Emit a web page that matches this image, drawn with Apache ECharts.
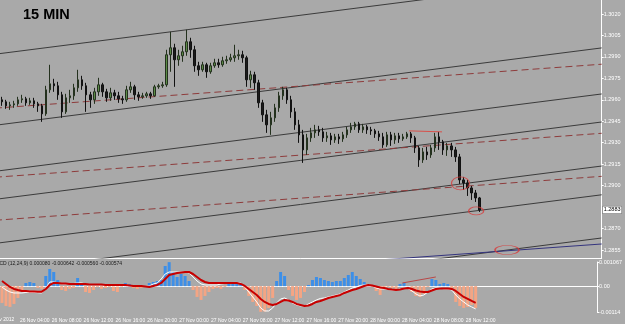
<!DOCTYPE html>
<html>
<head>
<meta charset="utf-8">
<script src="https://cdn.jsdelivr.net/npm/echarts@6/dist/echarts.min.js"></script>
<style>
  html, body { margin: 0; padding: 0; background: #a9a9a9; }
  #chart { width: 625px; height: 324px; }
</style>
</head>
<body>
<div id="chart"></div>
<script>
// 30 min slots, slot 0 = 26 Nov 00:00; the window shows slots 4..153
const firstVisibleSlot = 4;
const slotCount = 150;
const timeLabels = ['26 Nov 2012', '26 Nov 04:00', '26 Nov 08:00', '26 Nov 12:00', '26 Nov 16:00', '26 Nov 20:00',
  '27 Nov 00:00', '27 Nov 04:00', '27 Nov 08:00', '27 Nov 12:00', '27 Nov 16:00', '27 Nov 20:00',
  '28 Nov 00:00', '28 Nov 04:00', '28 Nov 08:00', '28 Nov 12:00'];
const priceTicks = [1.3020, 1.3005, 1.2990, 1.2975, 1.2960, 1.2945, 1.2930, 1.2915, 1.2900, 1.2870, 1.2855];
const lastPrice = 1.2883;
const macdTicks = [0.001067, 0, -0.00114];
const macdTickLabels = ['0.001067', '0.00', '-0.00114'];

// open, close, low, high (from slot 4)
const ohlc = [
  [1.29600,1.29586,1.29558,1.29621],[1.29586,1.29558,1.29537,1.29600],
  [1.29558,1.29565,1.29530,1.29586],[1.29565,1.29572,1.29544,1.29593],[1.29572,1.29600,1.29558,1.29621],
  [1.29600,1.29607,1.29579,1.29635],[1.29607,1.29579,1.29558,1.29621],[1.29579,1.29593,1.29565,1.29614],
  [1.29593,1.29572,1.29544,1.29614],[1.29572,1.29558,1.29516,1.29586],[1.29558,1.29502,1.29446,1.29572],
  [1.29502,1.29670,1.29488,1.29698],[1.29670,1.29712,1.29649,1.29845],[1.29712,1.29698,1.29656,1.29747],
  [1.29698,1.29635,1.29600,1.29726],[1.29635,1.29516,1.29474,1.29656],[1.29516,1.29614,1.29502,1.29642],
  [1.29614,1.29628,1.29579,1.29670],[1.29628,1.29684,1.29600,1.29712],[1.29684,1.29740,1.29656,1.29810],
  [1.29740,1.29698,1.29670,1.29768],[1.29698,1.29635,1.29516,1.29719],[1.29635,1.29600,1.29544,1.29656],
  [1.29600,1.29656,1.29572,1.29684],[1.29656,1.29705,1.29628,1.29754],[1.29705,1.29656,1.29621,1.29719],
  [1.29656,1.29614,1.29586,1.29677],[1.29614,1.29649,1.29593,1.29684],[1.29649,1.29628,1.29600,1.29670],
  [1.29628,1.29607,1.29579,1.29656],[1.29607,1.29600,1.29572,1.29628],[1.29600,1.29670,1.29586,1.29698],
  [1.29670,1.29691,1.29649,1.29726],[1.29691,1.29635,1.29600,1.29705],[1.29635,1.29621,1.29593,1.29656],
  [1.29621,1.29628,1.29607,1.29649],[1.29628,1.29642,1.29614,1.29656],[1.29642,1.29628,1.29607,1.29656],
  [1.29628,1.29691,1.29621,1.29705],[1.29691,1.29698,1.29677,1.29712],[1.29698,1.29705,1.29684,1.29726],
  [1.29705,1.29915,1.29691,1.29950],[1.29915,1.29964,1.29796,1.30076],[1.29964,1.29880,1.29691,1.29992],
  [1.29880,1.29908,1.29838,1.29950],[1.29908,1.29936,1.29866,1.29978],[1.29936,1.30006,1.29908,1.30090],
  [1.30006,1.29950,1.29894,1.30034],[1.29950,1.29838,1.29796,1.29978],[1.29838,1.29810,1.29768,1.29866],
  [1.29810,1.29845,1.29796,1.29866],[1.29845,1.29796,1.29754,1.29859],[1.29796,1.29838,1.29782,1.29859],
  [1.29838,1.29859,1.29824,1.29887],[1.29859,1.29845,1.29824,1.29887],[1.29845,1.29873,1.29831,1.29901],
  [1.29873,1.29880,1.29852,1.29908],[1.29880,1.29894,1.29866,1.29922],[1.29894,1.29908,1.29866,1.29985],
  [1.29908,1.29915,1.29880,1.29950],[1.29915,1.29894,1.29859,1.29943],[1.29894,1.29740,1.29691,1.29908],
  [1.29740,1.29775,1.29684,1.29803],[1.29775,1.29719,1.29670,1.29796],[1.29719,1.29579,1.29544,1.29740],
  [1.29579,1.29495,1.29446,1.29600],[1.29495,1.29425,1.29369,1.29530],[1.29425,1.29474,1.29355,1.29516],
  [1.29474,1.29544,1.29446,1.29572],[1.29544,1.29628,1.29516,1.29656],[1.29628,1.29670,1.29600,1.29691],
  [1.29670,1.29600,1.29572,1.29684],[1.29600,1.29516,1.29474,1.29628],[1.29516,1.29425,1.29390,1.29544],
  [1.29425,1.29355,1.29299,1.29460],[1.29355,1.29250,1.29159,1.29390],[1.29250,1.29334,1.29215,1.29362],
  [1.29334,1.29369,1.29306,1.29404],[1.29369,1.29390,1.29334,1.29425],[1.29390,1.29376,1.29348,1.29418],
  [1.29376,1.29334,1.29306,1.29404],[1.29334,1.29348,1.29306,1.29376],[1.29348,1.29320,1.29285,1.29369],
  [1.29320,1.29341,1.29299,1.29362],[1.29341,1.29327,1.29292,1.29362],[1.29327,1.29355,1.29306,1.29376],
  [1.29355,1.29390,1.29334,1.29411],[1.29390,1.29411,1.29369,1.29439],[1.29411,1.29432,1.29390,1.29446],
  [1.29432,1.29390,1.29369,1.29446],[1.29390,1.29411,1.29369,1.29432],[1.29411,1.29390,1.29362,1.29425],
  [1.29390,1.29383,1.29355,1.29411],[1.29383,1.29362,1.29334,1.29397],[1.29362,1.29341,1.29313,1.29383],
  [1.29341,1.29285,1.29264,1.29369],[1.29285,1.29355,1.29271,1.29376],[1.29355,1.29320,1.29278,1.29376],
  [1.29320,1.29348,1.29292,1.29369],[1.29348,1.29327,1.29299,1.29369],[1.29327,1.29341,1.29313,1.29362],
  [1.29341,1.29362,1.29327,1.29376],[1.29362,1.29334,1.29299,1.29376],[1.29334,1.29264,1.29229,1.29348],
  [1.29264,1.29180,1.29131,1.29278],[1.29180,1.29236,1.29159,1.29264],[1.29236,1.29215,1.29180,1.29271],
  [1.29215,1.29264,1.29194,1.29285],[1.29264,1.29341,1.29236,1.29369],[1.29341,1.29306,1.29250,1.29376],
  [1.29306,1.29250,1.29215,1.29320],[1.29250,1.29278,1.29208,1.29299],[1.29278,1.29250,1.29201,1.29299],
  [1.29250,1.29201,1.29166,1.29271],[1.29201,1.29040,1.29012,1.29222],[1.29040,1.29019,1.28970,1.29061],
  [1.29019,1.28984,1.28928,1.29040],[1.28984,1.28949,1.28900,1.28998],[1.28949,1.28914,1.28886,1.28970],
  [1.28914,1.28830,1.28816,1.28921]
];

const macdHist = [
  -0.000741,-0.000873,-0.000917,-0.000785,-0.000520,-0.000168,0.000141,0.000185,0.000141,
  -0.000079,-0.000123,0.000450,0.000759,0.000626,0.000273,-0.000168,-0.000212,-0.000123,-0.000079,
  0.000362,0.000141,-0.000256,-0.000300,-0.000168,-0.000035,-0.000123,-0.000079,-0.000035,-0.000212,
  -0.000256,-0.000035,0.000141,0.000097,-0.000079,-0.000123,-0.000079,-0.000035,0.000141,0.000185,
  0.000229,0.000273,0.000891,0.001060,0.000626,0.000406,0.000538,0.000450,0.000229,-0.000168,
  -0.000476,-0.000609,-0.000432,-0.000256,-0.000123,-0.000079,-0.000123,-0.000035,0.000097,0.000141,
  0.000141,0.000097,-0.000168,-0.000432,-0.000697,-0.000873,-0.001130,-0.001120,-0.000961,-0.000520,
  0.000229,0.000626,0.000450,-0.000168,-0.000432,-0.000609,-0.000520,-0.000256,0.000053,0.000273,
  0.000406,0.000362,0.000273,0.000229,0.000185,0.000229,0.000229,0.000362,0.000494,0.000626,
  0.000450,0.000318,0.000185,0.000053,-0.000035,-0.000212,-0.000388,-0.000123,-0.000035,-0.000079,
  -0.000123,0.000097,0.000141,0.000010,-0.000256,-0.000432,-0.000476,-0.000344,-0.000035,0.000318,
  0.000273,0.000097,0.000141,0.000097,-0.000123,-0.000697,-0.000873,-0.000961,-0.000917,-0.000829,
  -0.000961
];
const macdRed = [
  0.000229,0.000097,-0.000035,-0.000123,-0.000168,-0.000212,-0.000212,-0.000234,-0.000234,
  -0.000243,-0.000243,-0.000123,0.000053,0.000141,0.000141,0.000119,0.000119,0.000097,0.000097,
  0.000097,0.000097,0.000097,0.000075,0.000075,0.000075,0.000075,0.000053,0.000053,0.000053,
  0.000053,0.000053,0.000053,0.000031,0.000009,0.000009,0.000009,-0.000013,-0.000035,0.000009,
  0.000053,0.000141,0.000318,0.000494,0.000538,0.000582,0.000604,0.000626,0.000626,0.000538,
  0.000406,0.000273,0.000185,0.000141,0.000141,0.000141,0.000141,0.000141,0.000141,0.000141,
  0.000141,0.000097,0.000009,-0.000123,-0.000256,-0.000388,-0.000564,-0.000697,-0.000785,-0.000829,
  -0.000785,-0.000697,-0.000609,-0.000631,-0.000697,-0.000785,-0.000829,-0.000873,-0.000851,-0.000785,
  -0.000697,-0.000653,-0.000587,-0.000520,-0.000476,-0.000432,-0.000388,-0.000300,-0.000234,-0.000168,
  -0.000123,-0.000057,0.000009,0.000053,0.000031,-0.000013,-0.000057,-0.000079,-0.000123,-0.000146,
  -0.000168,-0.000146,-0.000101,-0.000079,-0.000123,-0.000190,-0.000234,-0.000256,-0.000256,-0.000190,
  -0.000123,-0.000101,-0.000101,-0.000101,-0.000123,-0.000212,-0.000344,-0.000476,-0.000564,-0.000653,
  -0.000741
];
const macdWhite = [
  -0.000035,-0.000168,-0.000256,-0.000300,-0.000300,-0.000300,-0.000278,-0.000278,-0.000278,
  -0.000287,-0.000300,-0.000079,0.000185,0.000185,0.000141,0.000097,0.000097,0.000119,0.000119,
  0.000141,0.000141,0.000097,0.000053,0.000053,0.000053,0.000053,0.000031,0.000031,0.000009,
  0.000009,0.000009,0.000053,0.000031,0.000009,-0.000013,-0.000013,-0.000013,0.000009,0.000097,
  0.000141,0.000318,0.000538,0.000626,0.000626,0.000626,0.000626,0.000626,0.000582,0.000406,
  0.000229,0.000097,0.000053,0.000053,0.000053,0.000053,0.000097,0.000119,0.000141,0.000163,
  0.000163,0.000141,-0.000035,-0.000256,-0.000476,-0.000697,-0.000961,-0.001094,-0.001094,-0.000961,
  -0.000741,-0.000564,-0.000520,-0.000609,-0.000741,-0.000829,-0.000873,-0.000873,-0.000785,-0.000697,
  -0.000609,-0.000542,-0.000520,-0.000476,-0.000432,-0.000388,-0.000344,-0.000256,-0.000168,-0.000079,
  -0.000035,0.000031,0.000053,0.000053,0.000009,-0.000079,-0.000123,-0.000123,-0.000146,-0.000168,
  -0.000168,-0.000123,-0.000079,-0.000101,-0.000212,-0.000344,-0.000432,-0.000388,-0.000256,-0.000123,
  -0.000079,-0.000079,-0.000123,-0.000123,-0.000168,-0.000388,-0.000564,-0.000697,-0.000829,-0.000917,
  -0.001005
];

// drawn objects (slot units): price at left and right ends
const lineEnds = [-0.5, 153.5];
const channelLines = [[1.29909, 1.30460], [1.29412, 1.29963], [1.29090, 1.29641], [1.28894, 1.29445],
  [1.28586, 1.29137], [1.28385, 1.28936], [1.28083, 1.28634]];
const dashedLines = [[1.29536, 1.29849], [1.29053, 1.29366], [1.28752, 1.29065]];
const blueLine = [1.28282, 1.28592];
const topLineSlots = [105.5, 113.7];
const topLinePrices = [1.29383, 1.29376];
const circleSlots = [118.3, 122.2, 129.9];
const circlePrices = [1.29016, 1.28823, 1.28550];
const divSlots = [104.6, 113.0];
const divValues = [0.000141, 0.000406];

const cats = Array.from({ length: slotCount }, (_, i) => i + firstVisibleSlot);
const pad = (arr) => cats.map((s, i) => i < arr.length ? arr[i] : '-');
const slotMin = firstVisibleSlot - 0.5;
const slotMax = firstVisibleSlot - 0.5 + slotCount;
const isLabelSlot = (i) => {
  const s = cats[i];
  return s % 8 === 0 && s / 8 < timeLabels.length;
};

const chart = echarts.init(document.getElementById('chart'));

const segment = (p, color, type) => ({
  type: 'line',
  xAxisIndex: 1,
  yAxisIndex: 0,
  data: [[lineEnds[0], p[0]], [lineEnds[1], p[1]]],
  symbol: 'none',
  silent: true,
  clip: true,
  lineStyle: { color: color, width: 1, type: type },
  z: 1
});

const series = [];
channelLines.forEach((p) => series.push(segment(p, '#3b3b3b', 'solid')));
dashedLines.forEach((p) => series.push(segment(p, '#8e3c3c', [7, 4])));
series.push(segment(blueLine, '#34347e', 'solid'));

series.push({
  type: 'candlestick',
  xAxisIndex: 0,
  yAxisIndex: 0,
  data: pad(ohlc),
  barWidth: 2,
  itemStyle: {
    color: '#5b8c46',
    color0: '#1b1b1b',
    borderColor: '#24311e',
    borderColor0: '#111111',
    borderWidth: 1
  },
  z: 3
});

series.push({
  type: 'line',
  xAxisIndex: 1,
  yAxisIndex: 0,
  data: topLineSlots.map((s, i) => [s, topLinePrices[i]]),
  symbol: 'none',
  lineStyle: { color: '#d8504a', width: 1 },
  z: 4
});

series.push({
  type: 'scatter',
  xAxisIndex: 1,
  yAxisIndex: 0,
  data: circleSlots.map((s, i) => [s, circlePrices[i]]),
  symbol: 'circle',
  symbolSize: (v, p) => [[18, 13], [15, 8], [24, 9]][p.dataIndex],
  itemStyle: { color: 'rgba(0,0,0,0)', borderColor: '#d83a3a', borderWidth: 1 },
  z: 5
});

// MACD pane
series.push({
  type: 'bar',
  xAxisIndex: 2,
  yAxisIndex: 2,
  data: pad(macdHist),
  barWidth: 3,
  itemStyle: {
    color: (p) => p.value >= 0 ? '#3d8fe8' : '#f4a584'
  },
  z: 2
});
series.push({
  type: 'line',
  xAxisIndex: 2,
  yAxisIndex: 2,
  data: pad(macdWhite),
  symbol: 'none',
  lineStyle: { color: '#ffffff', width: 1 },
  z: 3
});
series.push({
  type: 'line',
  xAxisIndex: 2,
  yAxisIndex: 2,
  data: pad(macdRed),
  symbol: 'none',
  lineStyle: { color: '#c80000', width: 2 },
  z: 4
});
series.push({
  type: 'line',
  xAxisIndex: 3,
  yAxisIndex: 2,
  data: divSlots.map((s, i) => [s, divValues[i]]),
  symbol: 'none',
  lineStyle: { color: '#b84848', width: 1 },
  z: 5
});

const fontName = 'Liberation Sans, Arial, sans-serif';
const labelFont = { color: '#ffffff', fontSize: 5.5, fontFamily: fontName };

chart.setOption({
  animation: false,
  backgroundColor: '#a9a9a9',
  graphic: [
    {
      type: 'text',
      x: 23,
      y: 7,
      style: { text: '15 MIN', fill: '#000000', font: 'bold 14.5px ' + fontName }
    },
    {
      type: 'text',
      x: -8,
      y: 261.5,
      style: {
        text: 'MACD (12,24,9) 0.000080 -0.000642 -0.000560 -0.000574',
        fill: '#1a1a1a',
        font: '5px ' + fontName
      }
    },
    {
      // first time label sits left of the window and is cut off
      type: 'text',
      x: -14,
      y: 317.5,
      style: { text: timeLabels[0], fill: '#ffffff', font: '5px ' + fontName }
    }
  ],
  grid: [
    { left: 0, right: 20, top: 0, height: 258 },
    { left: 0, right: 20, top: 262, height: 50 }
  ],
  xAxis: [
    {
      type: 'category',
      gridIndex: 0,
      data: cats,
      boundaryGap: true,
      axisLine: { lineStyle: { color: '#ffffff', width: 1 } },
      axisTick: { show: false },
      axisLabel: { show: false },
      splitLine: { show: false }
    },
    {
      type: 'value',
      gridIndex: 0,
      min: slotMin,
      max: slotMax,
      show: false
    },
    {
      type: 'category',
      gridIndex: 1,
      data: cats,
      boundaryGap: true,
      offset: 4,
      axisLine: { lineStyle: { color: '#ffffff', width: 1 } },
      axisTick: {
        alignWithLabel: true,
        length: 2,
        lineStyle: { color: '#ffffff' },
        interval: isLabelSlot
      },
      axisLabel: Object.assign({}, labelFont, {
        fontSize: 5,
        margin: 2,
        align: 'left',
        padding: [0, 0, 0, 2],
        interval: isLabelSlot,
        formatter: (v) => timeLabels[v / 8] || ''
      }),
      splitLine: { show: false }
    },
    {
      type: 'value',
      gridIndex: 1,
      min: slotMin,
      max: slotMax,
      show: false
    }
  ],
  yAxis: [
    {
      type: 'value',
      gridIndex: 0,
      position: 'right',
      min: 1.28494,
      max: 1.30298,
      axisLine: { show: true, lineStyle: { color: '#ffffff', width: 1 } },
      axisTick: { show: true, length: 2, lineStyle: { color: '#ffffff' }, customValues: priceTicks },
      axisLabel: Object.assign({}, labelFont, {
        margin: 2,
        customValues: priceTicks,
        formatter: (v) => v.toFixed(4)
      }),
      splitLine: { show: false }
    },
    {
      type: 'value',
      gridIndex: 0,
      position: 'right',
      offset: 0,
      min: 1.28494,
      max: 1.30298,
      axisLine: { show: false },
      axisTick: { show: false },
      axisLabel: {
        color: '#000000',
        fontSize: 5.5,
        fontFamily: fontName,
        margin: 1,
        backgroundColor: '#ffffff',
        borderColor: '#555555',
        borderWidth: 0.5,
        padding: [1, 1, 0, 1],
        customValues: [lastPrice],
        formatter: (v) => v.toFixed(4)
      },
      splitLine: { show: false }
    },
    {
      type: 'value',
      gridIndex: 1,
      position: 'right',
      min: -0.00114,
      max: 0.001067,
      axisLine: { show: true, lineStyle: { color: '#ffffff', width: 1 } },
      axisTick: { show: true, length: 2, lineStyle: { color: '#ffffff' }, customValues: macdTicks },
      axisLabel: Object.assign({}, labelFont, {
        margin: 2,
        customValues: macdTicks,
        formatter: (v) => macdTickLabels[macdTicks.indexOf(v)] || ''
      }),
      splitLine: { show: false }
    }
  ],
  series: series
});
</script>
</body>
</html>
